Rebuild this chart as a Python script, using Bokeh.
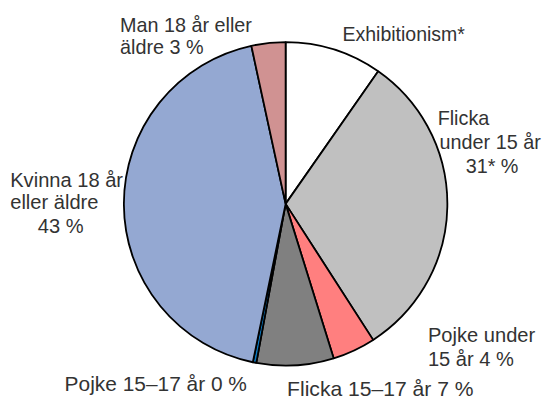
import math
from bokeh.plotting import figure
from bokeh.models import ColumnDataSource, Range1d
from bokeh.core.properties import value
from bokeh.embed import file_html
from bokeh.resources import INLINE

# ---- data ----
categories = ["Exhibitionism*", "Flicka under 15 år", "Pojke under 15 år",
              "Flicka 15–17 år", "Pojke 15–17 år",
              "Kvinna 18 år eller äldre", "Man 18 år eller äldre"]
shares = [9.7, 31.2, 4.3, 7.7, 0.35, 43.35, 3.4]
labels = ["Exhibitionism*",
          "Flicka\nunder 15 år\n31* %",
          "Pojke under\n15 år 4 %",
          "Flicka 15–17 år 7 %",
          "Pojke 15–17 år 0 %",
          "Kvinna 18 år\neller äldre\n43 %",
          "Man 18  år eller\näldre 3 %"]

# ---- styles / layout ----
colors = ["#FFFFFF", "#C0C0C0", "#FF7F7F", "#808080", "#0A78C0", "#94A8D2", "#D09292"]
W, H = 544, 400          # canvas size (fits the window with the 8px page margin)
RW, RH = 560, 416        # design space (reference pixel space)
S = (W / RW + H / RH) / 2
cx_s, cy_s, R = 293.5, 211.5, 166.5  # pie centre/radius in design px

# per-line label anchors in design px: (x, baseline y, align)
label_layout = [
    [(352, 35, "left")],
    [(450, 122, "left"), (452, 147, "left"), (506, 172, "center")],
    [(440, 348, "left"), (440, 373, "left")],
    [(295, 404, "left")],
    [(66, 398, "left")],
    [(10, 187, "left"), (10, 210, "left"), (62, 235, "center")],
    [(123, 25, "left"), (123, 48, "left")],
]
label_size = [20.2, 20.5, 20.8, 21.8, 21.6, 20.8, 20.5]

p = figure(width=W, height=H, output_backend="svg", toolbar_location=None,
           x_range=Range1d(0, RW), y_range=Range1d(0, RH),
           min_border=0, outline_line_color=None)
p.axis.visible = False
p.grid.visible = False
p.background_fill_color = "white"
p.border_fill_color = "white"

total = sum(shares)
starts, ends = [], []
cum = 0.0
for s in shares:
    starts.append(math.pi / 2 - 2 * math.pi * cum / total)
    cum += s
    ends.append(math.pi / 2 - 2 * math.pi * cum / total)

src = ColumnDataSource(dict(cat=categories, share=shares, start=starts, end=ends, color=colors))
p.wedge(x=cx_s, y=RH - cy_s, radius=R, start_angle="start", end_angle="end",
        direction="clock", fill_color="color", line_color="black", line_width=1.8, source=src)

for lab, lay, fs in zip(labels, label_layout, label_size):
    for line, (x, y, al) in zip(lab.split("\n"), lay):
        p.text(x=[x], y=[RH - y], text=[line], text_align=al, text_baseline="alphabetic",
               text_font=value("Liberation Sans"), text_font_size=f"{fs * S:.1f}px",
               text_color="#333333")

open("out.html", "w").write(file_html(p, INLINE))
